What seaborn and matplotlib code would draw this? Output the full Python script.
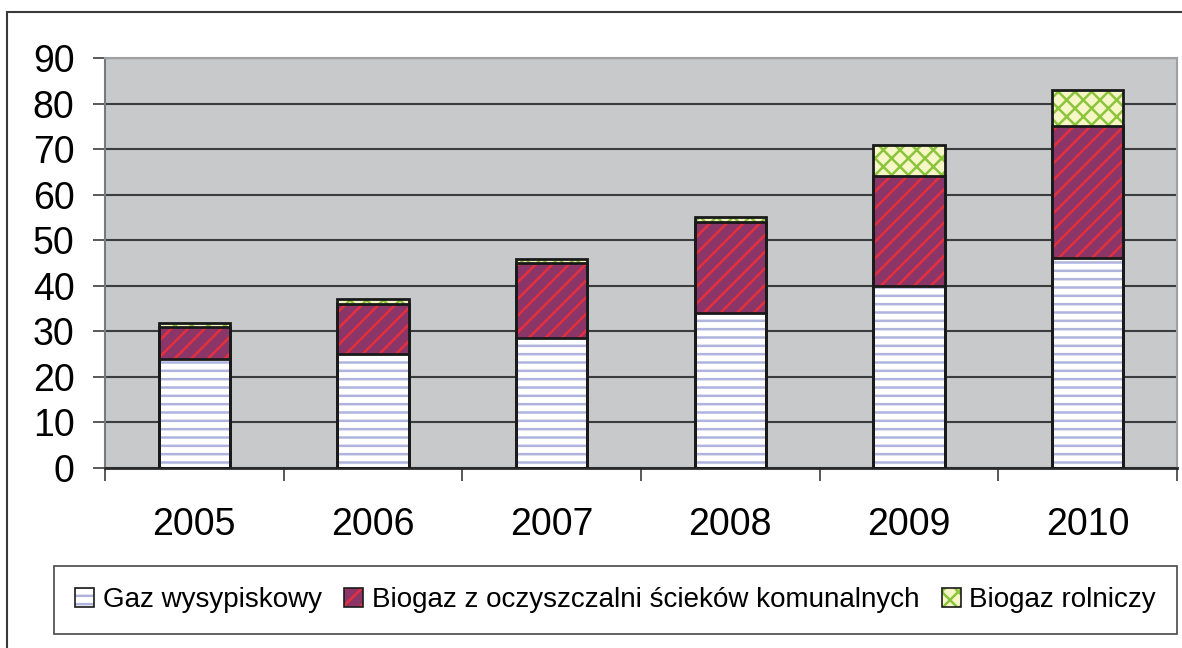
import matplotlib
matplotlib.use('Agg')
import matplotlib.pyplot as plt
import seaborn as sns
import numpy as np
from matplotlib.patches import Patch, Rectangle
from matplotlib.legend_handler import HandlerTuple

# data
years = ['2005', '2006', '2007', '2008', '2009', '2010']
gaz = np.array([24, 25, 28.5, 34, 40, 46])
scieki = np.array([7, 11, 16.5, 20, 24, 29])
rolniczy = np.array([0.8, 1.2, 0.9, 1.0, 7, 8])
labels = ['Gaz wysypiskowy', 'Biogaz z oczyszczalni ścieków komunalnych', 'Biogaz rolniczy']

plt.rcParams['font.family'] = ['Liberation Sans', 'DejaVu Sans']
plt.rcParams['hatch.linewidth'] = 1.8

fig = plt.figure(figsize=(11.82, 6.48), dpi=100)
ax = fig.add_axes([105/1182, 1 - 468/648, (1177-105)/1182, (468-58)/648])
ax.set_facecolor('#c8c9cb')

# style of each layer: face, hatch colour, hatch
styles = [
    ('white', '#aeb4de', '--'),
    ('#8c3568', '#e3303c', '//'),
    ('#f6f6c6', '#8cc43c', 'xx'),
]

cum = [gaz, gaz + scieki, gaz + scieki + rolniczy]

# filled layers, tallest first so the lower segments sit on top
for i in [2, 1, 0]:
    n0 = len(ax.patches)
    sns.barplot(x=years, y=cum[i], width=0.4, errorbar=None, ax=ax, color=styles[i][0])
    for p in ax.patches[n0:]:
        p.set_facecolor(styles[i][0])
        p.set_edgecolor(styles[i][1])
        p.set_hatch(styles[i][2])
        p.set_linewidth(0)
        p.set_zorder(2)

# black outlines of every segment
for i in [2, 1, 0]:
    n0 = len(ax.patches)
    sns.barplot(x=years, y=cum[i], width=0.4, errorbar=None, ax=ax, fill=False, color='black')
    for p in ax.patches[n0:]:
        p.set_facecolor('none')
        p.set_edgecolor('#1a1a1a')
        p.set_linewidth(2)
        p.set_zorder(3)

ax.set_ylim(0, 90)
ax.set_xlim(-0.5, 5.5)
ax.set_yticks(range(0, 91, 10))
ax.set_xlabel('')
ax.set_ylabel('')
ax.yaxis.grid(True, color='#3c3c3c', linewidth=1.5)
ax.xaxis.grid(False)
ax.set_axisbelow(True)

ax.tick_params(axis='y', labelsize=27, length=9, width=1.2, color='#3c3c3c', pad=13)
ax.tick_params(axis='x', which='major', labelsize=27, length=0, pad=28)
ax.set_xticks(np.arange(-0.5, 6, 1), minor=True)
ax.tick_params(axis='x', which='minor', length=9, width=1.2, color='#3c3c3c')

for side, col, lw in [('left', '#7a7a7a', 1.5), ('bottom', '#2a2a2a', 2),
                      ('top', '#a0a0a0', 1.5), ('right', '#a0a0a0', 1.5)]:
    ax.spines[side].set_color(col)
    ax.spines[side].set_linewidth(lw)

# legend with hatched swatches and black outlines
handles = []
for face, hcol, hatch in styles:
    handles.append((Patch(facecolor=face, edgecolor=hcol, hatch=hatch, linewidth=0),
                    Patch(facecolor='none', edgecolor='#1a1a1a', linewidth=1.2)))
leg = fig.legend(handles, labels, loc='center', ncol=3,
                 bbox_to_anchor=((52 + 1179) / 2 / 1182, 1 - 600/648),
                 handler_map={tuple: HandlerTuple(ndivide=1, pad=0)},
                 fontsize=20, frameon=True, fancybox=False, edgecolor='#1a1a1a',
                 handlelength=0.7, handleheight=0.7, handletextpad=0.3,
                 columnspacing=0.8, borderpad=0.75, borderaxespad=0)
leg.get_frame().set_linewidth(1.2)

# outer border of the chart area
fig.add_artist(Rectangle((7/1182, -0.1), 1.2, 0.1 + 1 - 12/648, transform=fig.transFigure,
                         facecolor='none', edgecolor='#3a3a3a', linewidth=1.5))

fig.savefig('out.png', dpi=100)
